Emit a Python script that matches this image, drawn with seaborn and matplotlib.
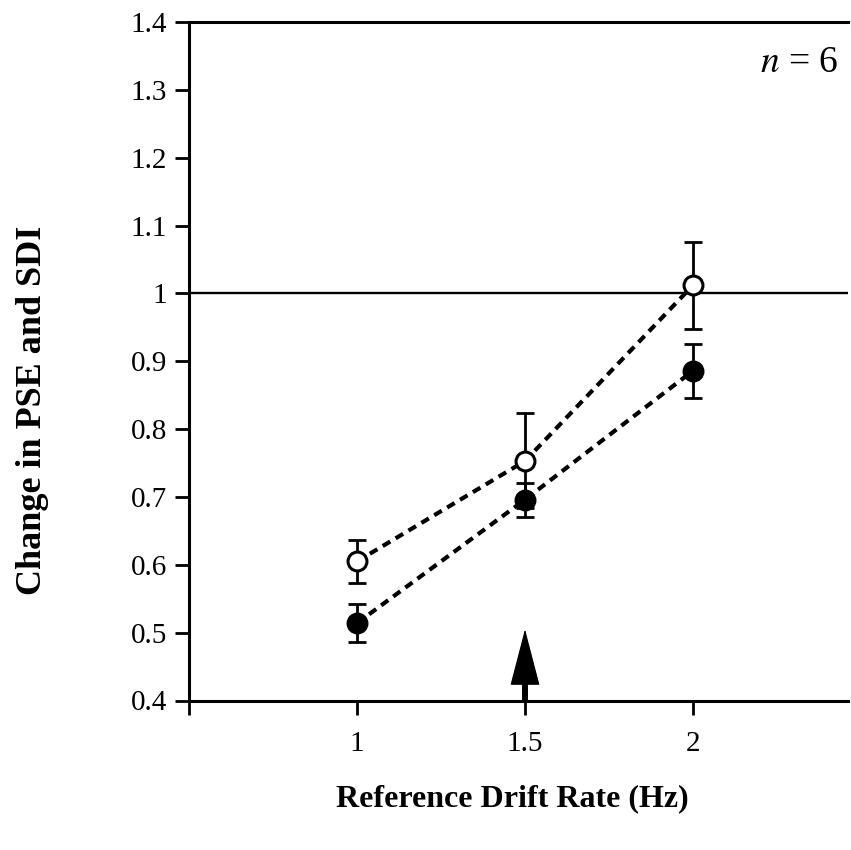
import matplotlib
matplotlib.use("Agg")
import matplotlib.pyplot as plt
import seaborn as sns
import pandas as pd
from matplotlib.patches import FancyArrowPatch

# ---- data ----
drift_rate = [1.0, 1.5, 2.0]
sdi_open = [0.605, 0.753, 1.012]
sdi_open_err = [0.032, 0.070, 0.064]
pse_filled = [0.514, 0.696, 0.886]
pse_filled_err = [0.028, 0.025, 0.040]
y_ticks = [0.4, 0.5, 0.6, 0.7, 0.8, 0.9, 1.0, 1.1, 1.2, 1.3, 1.4]
y_tick_labels = ["0.4", "0.5", "0.6", "0.7", "0.8", "0.9", "1", "1.1", "1.2", "1.3", "1.4"]
x_ticks = [0.5, 1.0, 1.5, 2.0]
x_tick_labels = ["", "1", "1.5", "2"]
reference_rate = 1.5
arrow_tip = 0.505

sns.set_style("white")
plt.rcParams["font.family"] = ["Liberation Serif", "DejaVu Serif"]
plt.rcParams["mathtext.fontset"] = "stix"
for k in ["text.color", "axes.labelcolor", "xtick.color", "ytick.color"]:
    plt.rcParams[k] = "black"

fig = plt.figure(figsize=(8.51, 8.50), dpi=100)
ax = fig.add_axes([189 / 851, 149.5 / 850, 659 / 851, 678.5 / 850])

df_open = pd.DataFrame({"x": drift_rate, "y": sdi_open})
df_fill = pd.DataFrame({"x": drift_rate, "y": pse_filled})

ax.axhline(1.0, color="black", lw=1.7, zorder=1)

for df in (df_open, df_fill):
    sns.lineplot(data=df, x="x", y="y", ax=ax, color="black", lw=3.0,
                 linestyle=(0, (2.1, 1.5)), zorder=2)

ax.errorbar(drift_rate, sdi_open, yerr=sdi_open_err, fmt="none", ecolor="black",
            elinewidth=2.0, capsize=6.5, capthick=2.0, zorder=3)
ax.errorbar(drift_rate, pse_filled, yerr=pse_filled_err, fmt="none", ecolor="black",
            elinewidth=2.0, capsize=6.5, capthick=2.0, zorder=3)

sns.scatterplot(data=df_open, x="x", y="y", ax=ax, marker="o", s=185,
                facecolor="white", edgecolor="black", linewidth=2.2, zorder=4)
sns.scatterplot(data=df_fill, x="x", y="y", ax=ax, marker="o", s=185,
                facecolor="black", edgecolor="black", linewidth=2.2, zorder=5)

# reference-rate arrow: shaft + filled head
ax.plot([reference_rate, reference_rate], [0.4, 0.44], color="black", lw=4.3,
        solid_capstyle="butt", zorder=6)
arrow = FancyArrowPatch((reference_rate, 0.4), (reference_rate, arrow_tip),
                        arrowstyle="-|>,head_length=38,head_width=9.9",
                        mutation_scale=1, color="black", lw=0.8,
                        shrinkA=0, shrinkB=0, zorder=6, clip_on=False)
ax.add_patch(arrow)

ax.set_xlim(0.5, 0.5 + 659 / 336)
ax.set_ylim(0.4, 1.4)
ax.set_xticks(x_ticks)
ax.set_xticklabels(x_tick_labels)
ax.set_yticks(y_ticks)
ax.set_yticklabels(y_tick_labels)

for s in ["left", "bottom", "top"]:
    ax.spines[s].set_visible(True)
    ax.spines[s].set_linewidth(2.2)
    ax.spines[s].set_color("black")
ax.spines["right"].set_visible(False)

ax.tick_params(axis="both", direction="out", length=10, width=2, color="black",
               labelsize=21, pad=6, left=True, bottom=True)
ax.tick_params(axis="x", pad=12)

ax.set_xlabel("Reference Drift Rate (Hz)", fontsize=23, fontweight="bold")
ax.xaxis.set_label_coords(0.491, -0.124)
ax.set_ylabel("Change in PSE and SDI", fontsize=26, fontweight="bold")
ax.yaxis.set_label_coords(-0.213, 0.428)

ax.text(0.985, 0.94, "$n$ = 6", transform=ax.transAxes, ha="right", va="center",
        fontsize=27)

fig.savefig("out.png", dpi=100)
